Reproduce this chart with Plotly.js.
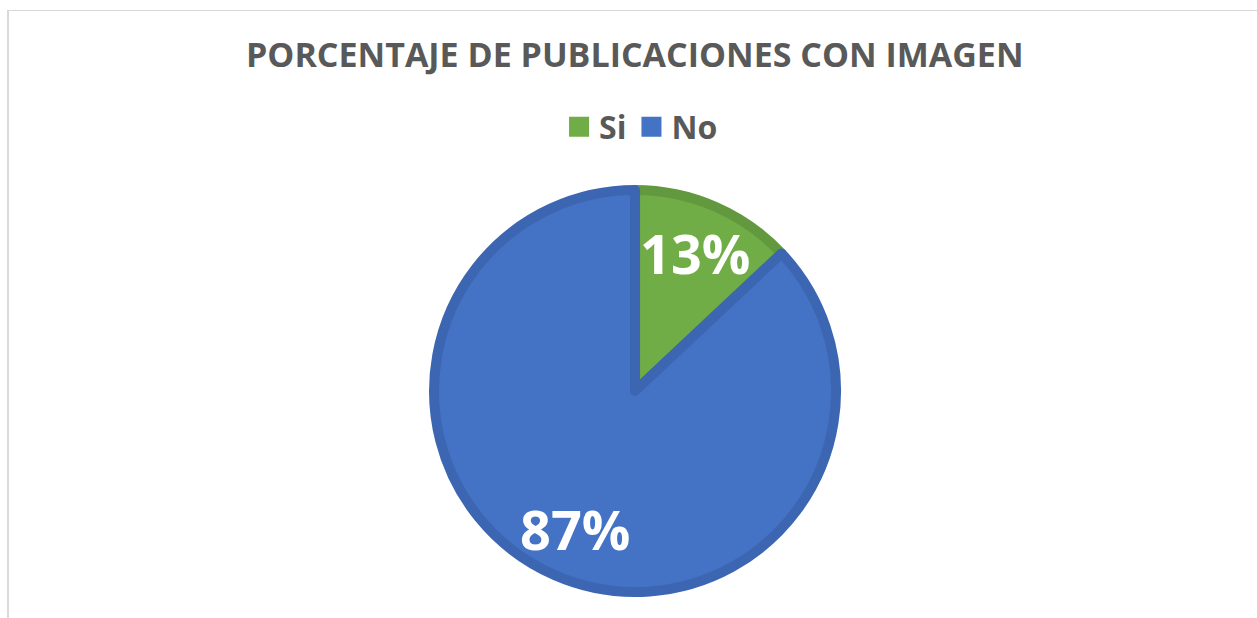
<!DOCTYPE html>
<html>
<head>
<meta charset="utf-8">
<script src="https://cdn.plot.ly/plotly-3.0.1.min.js"></script>
<style>
  html, body { margin: 0; padding: 0; background: #ffffff; }
  #frame { position: absolute; left: 7px; top: 10px; width: 1300px; height: 700px;
           border-left: 2px solid #d9d9d9; border-top: 1px solid #d9d9d9; }
  #chart { position: absolute; left: 0; top: 0; width: 1257px; height: 618px; }
</style>
</head>
<body>
<div id="frame"></div>
<div id="chart"></div>
<script>
const chartTitle = "PORCENTAJE DE PUBLICACIONES CON IMAGEN";
const categories = ["Si", "No"];
const percentages = [13, 87];
const fillColors = ["#70AD47", "#4472C4"];
const borderColors = ["#63993E", "#3D66B2"];

const W = 1257, H = 618;
const domX = [0.3453, 0.6651], domY = [0.0421, 0.6926];
const lineW = 10;

// label positions derived from the data (mid-angle of each slice, at 73% of the radius)
const total = percentages.reduce((a, b) => a + b, 0);
const cx = (domX[0] + domX[1]) / 2 * W;
const cyUp = (domY[0] + domY[1]) / 2 * H;
const rOuter = (domY[1] - domY[0]) / 2 * H + lineW / 2;
let cum = 0;
const annotations = percentages.map((v) => {
  const mid = (cum + v / 2) / total * 2 * Math.PI;
  cum += v;
  const d = 0.73 * rOuter;
  const px = cx + d * Math.sin(mid);
  const py = cyUp + d * Math.cos(mid);
  return {
    xref: "paper", yref: "paper", x: px / W, y: py / H,
    xanchor: "center", yanchor: "middle", showarrow: false,
    text: Math.round(v / total * 100) + "%",
    font: { family: "Open Sans", size: 54, color: "#ffffff", weight: 700 }
  };
});

const trace = {
  type: "pie",
  labels: categories,
  values: percentages,
  sort: false,
  direction: "clockwise",
  rotation: 0,
  textinfo: "none",
  marker: { colors: fillColors, line: { color: borderColors, width: lineW } },
  domain: { x: domX, y: domY },
  hoverinfo: "label+percent"
};

const layout = {
  width: W, height: H,
  margin: { l: 0, r: 0, t: 0, b: 0 },
  paper_bgcolor: "rgba(0,0,0,0)",
  plot_bgcolor: "rgba(0,0,0,0)",
  title: {
    text: "<b>" + chartTitle + "</b>",
    font: { family: "Open Sans", size: 34, color: "#595959" },
    x: 0.505, xanchor: "center",
    y: 1 - 55 / H, yanchor: "middle"
  },
  showlegend: true,
  legend: {
    orientation: "h",
    x: 0.51, xanchor: "center",
    y: 1 - 127 / H, yanchor: "middle",
    font: { family: "Open Sans", size: 32, color: "#595959", weight: 700 },
    itemclick: false
  },
  annotations: annotations
};

Plotly.newPlot("chart", [trace], layout, { displayModeBar: false, staticPlot: true }).then(() => {
  document.querySelectorAll("#chart .legendpoints path").forEach((p) => {
    p.setAttribute("d", "M10,10H-10V-10H10Z");
    p.style.strokeWidth = "0px";
  });
});
</script>
</body>
</html>
